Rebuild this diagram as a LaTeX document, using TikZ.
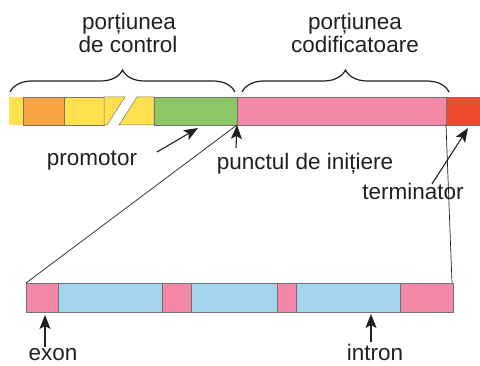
\documentclass[tikz,border=0pt]{standalone}
\usepackage{fontspec}
\setmainfont{Liberation Sans}
\usetikzlibrary{arrows.meta, decorations.pathreplacing}

\definecolor{segyellow}{HTML}{FFE14F}
\definecolor{segorange}{HTML}{F7A443}
\definecolor{seggreen}{HTML}{8CC665}
\definecolor{segpink}{HTML}{F287A8}
\definecolor{segred}{HTML}{EE4B2F}
\definecolor{segblue}{HTML}{A6D4EE}
\definecolor{txtgray}{HTML}{231F20}

\tikzset{
  seg/.style={draw=black!55, line width=0.5pt},
  lbl/.style={font=\fontsize{22.5}{23}\selectfont, text=txtgray, inner sep=0pt, anchor=base},
  arr/.style={-{Stealth[length=14pt,width=11pt,inset=3pt]}, line width=1.1pt, draw=txtgray},
  brc/.style={decorate, decoration={brace, amplitude=22pt}, line width=1.2pt, draw=txtgray}
}

\begin{document}
\begin{tikzpicture}[x=1pt,y=-1pt]
  \useasboundingbox (0,0) rectangle (480,366);

     % -------------------------
     % TOP: gene with its parts
     % -------------------------
      \fill[segyellow] (9,97) rectangle (23,125);
      \filldraw[seg, fill=segorange] (23,97) rectangle (64,125);
      \filldraw[seg, fill=segyellow] (64,97) rectangle (104,125);

      % Broken part of the bar
      \filldraw[seg, fill=segyellow] (104,97) -- (125,97) -- (107,125) -- (104,125) -- cycle;
      \filldraw[seg, fill=segyellow] (137,97) -- (154,97) -- (154,125) -- (119,125) -- cycle;

      \filldraw[seg, fill=seggreen] (154,97) rectangle (237,125);
      \filldraw[seg, fill=segpink] (237,97) rectangle (446,125);
      \filldraw[seg, fill=segred] (446,97) rectangle (480,125);

      % Braces
      \draw[brc] (10,92) -- (235,92);
      \draw[brc] (242,92) -- (449,92);

      % Titles
      \node[lbl] (ctrl1) at (129,30) {porțiunea};
      \node[lbl] (ctrl2) at (128,53) {de control};
      \node[lbl] (cod1) at (355,30) {porțiunea};
      \node[lbl] (cod2) at (355,53) {codificatoare};

     % -------------------------
     % BOTTOM: exons and introns
     % -------------------------
      \filldraw[seg, fill=segpink] (26,283) rectangle (58,312);
      \filldraw[seg, fill=segblue] (58,283) rectangle (162,312);
      \filldraw[seg, fill=segpink] (162,283) rectangle (191,312);
      \filldraw[seg, fill=segblue] (191,283) rectangle (277,312);
      \filldraw[seg, fill=segpink] (277,283) rectangle (296,312);
      \filldraw[seg, fill=segblue] (296,283) rectangle (400,312);
      \filldraw[seg, fill=segpink] (400,283) rectangle (453,312);

      % Coordinates
      \coordinate (Start) at (237,125);
      \coordinate (Stop) at (446,125);
      \coordinate (Bl) at (26,283);
      \coordinate (Br) at (452,283);

      % Zoom lines
      \draw[line width=0.7pt, txtgray] (Bl) -- (Start);
      \draw[line width=0.7pt, txtgray] (Br) -- (Stop);

      % Labels
      \node[lbl] (prom) at (92,166) {promotor};
      \node[lbl] (init) at (305,170) {punctul de inițiere};
      \node[lbl] (term) at (413,200) {terminator};
      \node[lbl] (exon) at (53,361) {exon};
      \node[lbl] (intron) at (375,361) {intron};

      % Arrow ends
      \coordinate (promT) at (157,152);
      \coordinate (promH) at (198,128);
      \coordinate (initT) at (236,148);
      \coordinate (termT) at (432,184);
      \coordinate (termH) at (468,128);
      \coordinate (exonT) at (45,347);
      \coordinate (exonH) at (45,315);
      \coordinate (intronT) at (371,342);
      \coordinate (intronH) at (371,314);

      % Arrows
      \draw[arr] (promT) -- (promH);
      \draw[arr] (initT) -- (Start);
      \draw[arr] (termT) -- (termH);
      \draw[arr] (exonT) -- (exonH);
      \draw[arr] (intronT) -- (intronH);
\end{tikzpicture}
\end{document}
